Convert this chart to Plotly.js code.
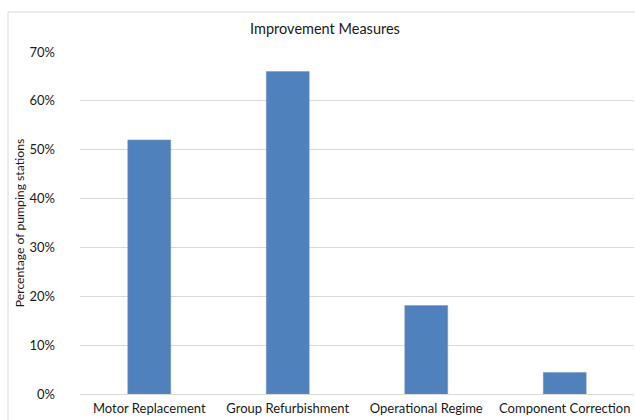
<!DOCTYPE html>
<html>
<head>
<meta charset="utf-8">
<script src="https://cdn.plot.ly/plotly-3.0.1.min.js"></script>
<style>html,body{margin:0;padding:0;background:#fff;}#chart{width:635px;height:420px;}</style>
</head>
<body>
<div id="chart"></div>
<script>
const categories = ["Motor Replacement", "Group Refurbishment", "Operational Regime", "Component Correction"];
const percentages = [0.52, 0.66, 0.181, 0.044];
const yTickValues = [0, 0.1, 0.2, 0.3, 0.4, 0.5, 0.6, 0.7];

const FONT = "Lato, 'Open Sans', sans-serif";

const trace = {
  type: "bar",
  x: categories,
  y: percentages,
  marker: {color: "#4F81BD", line: {color: "#6E96C8", width: 0.5}},
  hoverinfo: "x+y"
};

const layout = {
  width: 635,
  height: 420,
  margin: {l: 80, r: 1, t: 52, b: 26, pad: 0},
  paper_bgcolor: "#ffffff",
  plot_bgcolor: "#ffffff",
  font: {family: FONT, size: 13, color: "#1a1a1a"},
  showlegend: false,
  bargap: 0.69,
  title: {
    text: "Improvement Measures",
    font: {family: FONT, size: 14.5, color: "#1a1a1a"},
    x: 325 / 635, xref: "container", xanchor: "center",
    y: 1 - 29 / 420, yref: "container", yanchor: "middle"
  },
  xaxis: {
    type: "category",
    showgrid: false,
    showline: false,
    zeroline: false,
    ticks: "",
    ticklabelstandoff: 5,
    tickfont: {family: FONT, size: 13, color: "#1a1a1a"},
    fixedrange: true
  },
  yaxis: {
    range: [0, 0.7],
    tickvals: yTickValues,
    tickformat: ".0%",
    showgrid: true,
    gridcolor: "#d9d9d9",
    gridwidth: 1,
    zeroline: true,
    zerolinecolor: "#d9d9d9",
    zerolinewidth: 1,
    showline: false,
    ticks: "",
    ticklabelstandoff: 24,
    tickfont: {family: FONT, size: 13, color: "#1a1a1a"},
    title: {text: "Percentage of pumping stations", font: {family: FONT, size: 12.2, color: "#1a1a1a"}, standoff: 2},
    fixedrange: true
  },
  shapes: [{
    type: "rect", xref: "paper", yref: "paper",
    x0: -72 / 554, x1: 1 + 20 / 554,
    y0: -40 / 342, y1: 1 + 40 / 342,
    line: {color: "#d9d9d9", width: 1},
    fillcolor: "rgba(0,0,0,0)",
    layer: "below"
  }]
};

Plotly.newPlot("chart", [trace], layout, {displayModeBar: false, staticPlot: true});
</script>
</body>
</html>
